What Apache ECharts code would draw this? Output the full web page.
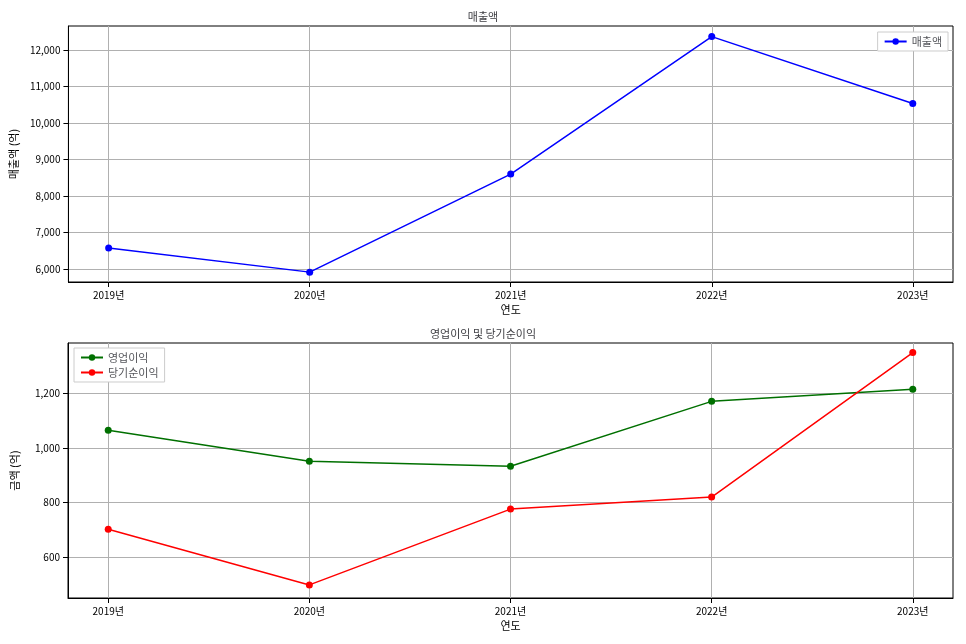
<!DOCTYPE html>
<html><head><meta charset="utf-8">
<script src="https://cdn.jsdelivr.net/npm/echarts@6/dist/echarts.min.js"></script>
<style>html,body{margin:0;background:#fff}#c{width:966px;height:644px}</style>
</head><body><div id="c"></div>
<script>
const years = ['2019년','2020년','2021년','2022년','2023년'];
const revenue = [6580, 5920, 8600, 12360, 10530];
const opProfit = [1065, 951, 933, 1171, 1215];
const netProfit = [702, 498, 776, 820, 1350];
const revTicks = [6000,7000,8000,9000,10000,11000,12000];
const profitTicks = [600,800,1000,1200];

const F = 'Noto Sans CJK KR';
const fmt = v => v.toLocaleString('en-US');
function xAx(gi){return {type:'value',gridIndex:gi,min:-0.2,max:4.2,name:'연도',nameLocation:'middle',nameGap:22,
  nameTextStyle:{fontFamily:F,fontSize:11,color:'#000'},
  axisLine:{onZero:false,lineStyle:{color:'#000'}},
  axisTick:{customValues:[0,1,2,3,4],lineStyle:{color:'#000'}},
  axisLabel:{customValues:[0,1,2,3,4],formatter:v=>years[Math.round(v)],fontFamily:F,fontSize:10,color:'#000'},
  splitLine:{show:true,lineStyle:{color:'#b0b0b0'}}};}
function yAx(gi,min,max,ticks,name){return {type:'value',gridIndex:gi,min,max,name,nameLocation:'middle',nameGap:48,
  nameTextStyle:{fontFamily:F,fontSize:11,color:'#000'},
  axisLine:{show:true,onZero:false,lineStyle:{color:'#000'}},
  axisTick:{show:true,customValues:ticks,lineStyle:{color:'#000'}},
  axisLabel:{customValues:ticks,formatter:fmt,fontFamily:F,fontSize:10,color:'#000'},
  splitLine:{show:true,lineStyle:{color:'#b0b0b0'}}};}
const pts = a => a.map((v,i)=>[i,v]);
const ser = (name,d,c,xi)=>({name,type:'line',xAxisIndex:xi,yAxisIndex:xi,data:pts(d),symbol:'circle',symbolSize:7,
  itemStyle:{color:c},lineStyle:{color:c,width:1.5}});
const chart = echarts.init(document.getElementById('c'));
chart.setOption({
  animation:false,
  title:[{text:'매출액',left:'center',top:6,textStyle:{fontFamily:F,fontSize:11,fontWeight:'normal'}},
         {text:'영업이익 및 당기순이익',left:'center',top:323,textStyle:{fontFamily:F,fontSize:11,fontWeight:'normal'}}],
  legend:[{data:['매출액'],right:18,top:32,orient:'vertical',backgroundColor:'#fff',borderColor:'#ccc',borderWidth:1,padding:[4,6],
           textStyle:{fontFamily:F,fontSize:11},itemWidth:22,itemHeight:8},
          {data:['영업이익','당기순이익'],left:74,top:348,orient:'vertical',backgroundColor:'#fff',borderColor:'#ccc',borderWidth:1,padding:[4,6],itemGap:4,
           textStyle:{fontFamily:F,fontSize:11},itemWidth:22,itemHeight:8}],
  grid:[{left:68,right:13,top:26,height:256,show:true,borderColor:'#000',borderWidth:1},
        {left:68,right:13,top:343,height:255,show:true,borderColor:'#000',borderWidth:1}],
  xAxis:[xAx(0),xAx(1)],
  yAxis:[yAx(0,5650,12650,revTicks,'매출액 (억)'),yAx(1,450,1385,profitTicks,'금액 (억)')],
  series:[ser('매출액',revenue,'#0000ff',0),ser('영업이익',opProfit,'#007000',1),ser('당기순이익',netProfit,'#ff0000',1)]
});
</script></body></html>
